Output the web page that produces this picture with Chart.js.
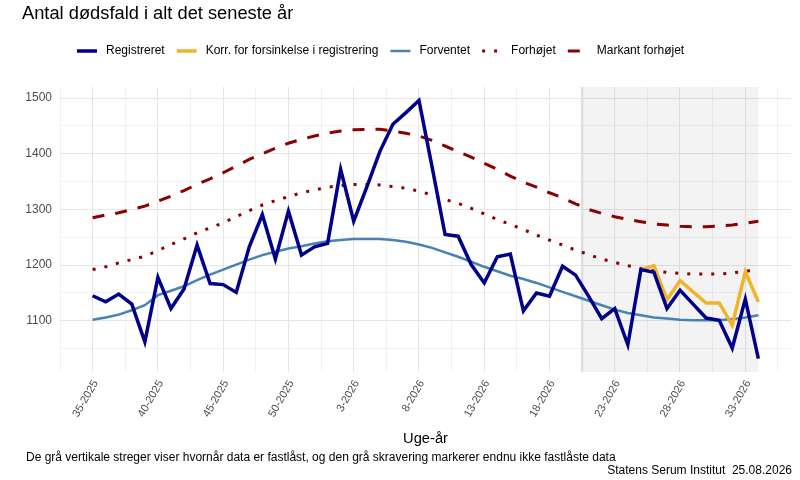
<!DOCTYPE html>
<html lang="da">
<head>
<meta charset="utf-8">
<title>Antal dødsfald i alt det seneste år</title>
<script src="https://cdn.jsdelivr.net/npm/chart.js@4.4.1/dist/chart.umd.min.js"></script>
<style>
  html, body { margin: 0; padding: 0; background: #fff; }
  #wrap { width: 800px; height: 480px; }
</style>
</head>
<body>
<div id="wrap"><canvas id="chart" width="800" height="480"></canvas></div>
<script>
// Uge-år (x-akse)
const weeks = [
  '35-2025', '36-2025', '37-2025', '38-2025', '39-2025', '40-2025', '41-2025', '42-2025', '43-2025',
  '44-2025', '45-2025', '46-2025', '47-2025', '48-2025', '49-2025', '50-2025', '51-2025', '52-2025',
  '1-2026', '2-2026', '3-2026', '4-2026', '5-2026', '6-2026', '7-2026', '8-2026', '9-2026', '10-2026',
  '11-2026', '12-2026', '13-2026', '14-2026', '15-2026', '16-2026', '17-2026', '18-2026', '19-2026',
  '20-2026', '21-2026', '22-2026', '23-2026', '24-2026', '25-2026', '26-2026', '27-2026', '28-2026',
  '29-2026', '30-2026', '31-2026', '32-2026', '33-2026', '34-2026'
];

// Antal dødsfald pr. uge
const registreret = [
  1145, 1134, 1148, 1130, 1062, 1178, 1122, 1157, 1236, 1167, 1165, 1151, 1233,
  1291, 1211, 1297, 1218, 1233, 1239, 1372, 1279, 1340, 1404, 1453, 1474, 1496,
  1377, 1255, 1252, 1201, 1168, 1215, 1220, 1118, 1150, 1144, 1198, 1182, 1144,
  1104, 1122, 1057, 1192, 1187, 1122, 1155, 1130, 1105, 1101, 1051, 1139, 1032
];
const korrigeret = [
  null, null, null, null, null, null, null, null, null, null, null, null, null,
  null, null, null, null, null, null, null, null, null, null, null, null, null,
  null, null, null, null, null, null, null, null, null, null, null, null, null,
  null, null, null, 1192, 1199, 1138, 1172, 1152, 1132, 1132, 1092, 1188, 1134
];
const forventet = [
  1102, 1106, 1111, 1119, 1128, 1146, 1154, 1162, 1173, 1183, 1192, 1201, 1210,
  1218, 1224, 1230, 1234, 1239, 1243, 1245, 1247, 1247, 1247, 1245, 1242, 1237,
  1231, 1223, 1215, 1206, 1197, 1189, 1181, 1175, 1168, 1160, 1152, 1144, 1136,
  1128, 1120, 1114, 1110, 1106, 1104, 1102, 1101, 1101, 1101, 1103, 1106, 1110
];
const forhoejet = [
  1192, 1197, 1204, 1210, 1216, 1226, 1237, 1247, 1258, 1267, 1276, 1287, 1298,
  1308, 1316, 1323, 1330, 1335, 1340, 1343, 1345, 1345, 1344, 1341, 1338, 1333,
  1326, 1318, 1311, 1302, 1292, 1282, 1273, 1264, 1254, 1245, 1236, 1227, 1219,
  1211, 1205, 1199, 1194, 1190, 1187, 1185, 1184, 1184, 1184, 1186, 1189, 1192
];
const markantForhoejet = [
  1285, 1290, 1294, 1300, 1306, 1315, 1324, 1334, 1345, 1355, 1366, 1378, 1390,
  1400, 1410, 1419, 1426, 1432, 1437, 1441, 1443, 1444, 1444, 1441, 1437, 1432,
  1424, 1414, 1404, 1394, 1383, 1372, 1360, 1349, 1340, 1330, 1321, 1310, 1300,
  1293, 1287, 1282, 1278, 1274, 1272, 1270, 1269, 1269, 1270, 1272, 1275, 1279
];

// ikke fastlåste data: fra stregen til sidste uge
const ikkeFastlaast = [37.5, 51];

const yTicks = [1050, 1100, 1150, 1200, 1250, 1300, 1350, 1400, 1450, 1500];

const FONT = "'Liberation Sans', Arial, Helvetica, sans-serif";
Chart.defaults.font.family = FONT;

function points(values) {
  return values.map((v, i) => ({ x: i, y: v })).filter(p => p.y !== null);
}

// x-gitter hver halve 5-uges periode
const xTicks = [];
for (let v = -2.5; v <= weeks.length + 0.5; v += 2.5) xTicks.push(v);

const ssiPlugin = {
  id: 'ssi',
  beforeDatasetsDraw(chart) {
    const { ctx, chartArea, scales } = chart;
    const x1 = scales.x.getPixelForValue(ikkeFastlaast[0]);
    const x2 = scales.x.getPixelForValue(ikkeFastlaast[1]);
    ctx.save();
    ctx.fillStyle = 'rgba(0,0,0,0.048)';
    ctx.fillRect(x1, chartArea.top, x2 - x1, chartArea.bottom - chartArea.top);
    ctx.strokeStyle = '#dedede';
    ctx.lineWidth = 2.5;
    ctx.beginPath();
    ctx.moveTo(x1, chartArea.top);
    ctx.lineTo(x1, chartArea.bottom);
    ctx.stroke();
    ctx.restore();
  },
  afterDraw(chart) {
    const { ctx, chartArea } = chart;
    ctx.save();
    ctx.fillStyle = '#000';
    ctx.textBaseline = 'alphabetic';

    // titel
    ctx.font = '18.3px ' + FONT;
    ctx.textAlign = 'left';
    ctx.fillText('Antal dødsfald i alt det seneste år', 22, 19);

    // legend
    ctx.font = '12px ' + FONT;
    ctx.textBaseline = 'middle';
    let x = 77;
    const y = 51;
    chart.data.datasets.forEach(ds => {
      ctx.save();
      ctx.strokeStyle = ds.borderColor;
      ctx.lineWidth = ds.borderWidth;
      ctx.setLineDash(ds.borderDash || []);
      ctx.beginPath();
      ctx.moveTo(x, y);
      ctx.lineTo(x + 20, y);
      ctx.stroke();
      ctx.restore();
      x += 29;
      ctx.fillText(ds.label, x, y);
      x += ctx.measureText(ds.label).width + 12;
    });

    // akse titel
    ctx.font = '14.7px ' + FONT;
    ctx.textAlign = 'center';
    ctx.fillText('Uge-år', (chartArea.left + chartArea.right) / 2, 439);

    // kilde tekst
    ctx.font = '12px ' + FONT;
    ctx.textAlign = 'left';
    ctx.fillText('De grå vertikale streger viser hvornår data er fastlåst, og den grå skravering markerer endnu ikke fastlåste data', 26, 458);
    ctx.textAlign = 'right';
    ctx.fillText('Statens Serum Institut  25.08.2026', 792, 471);
    ctx.restore();
  }
};

const ctx = document.getElementById('chart').getContext('2d');
const chart = new Chart(ctx, {
  type: 'line',
  data: {
    datasets: [
      { label: 'Registreret', data: points(registreret), borderColor: '#00008B', borderWidth: 3.5 },
      { label: 'Korr. for forsinkelse i registrering', data: points(korrigeret), borderColor: '#F0B429', borderWidth: 3.5 },
      { label: 'Forventet', data: points(forventet), borderColor: '#4682B4', borderWidth: 2.5 },
      { label: 'Forhøjet', data: points(forhoejet), borderColor: '#8B0000', borderWidth: 3, borderDash: [3, 9] },
      { label: 'Markant forhøjet', data: points(markantForhoejet), borderColor: '#8B0000', borderWidth: 3, borderDash: [12, 11] }
    ]
  },
  options: {
    responsive: false,
    animation: false,
    layout: { padding: { top: 87, right: 9, bottom: 0, left: 0 } },
    elements: {
      point: { radius: 0, hoverRadius: 0 },
      line: { tension: 0, fill: false }
    },
    plugins: {
      legend: { display: false },
      tooltip: { enabled: false }
    },
    scales: {
      x: {
        type: 'linear',
        min: -2.5,
        max: 53.5,
        border: { display: false },
        grid: {
          drawTicks: false,
          color: c => (c.tick && c.tick.value % 5 === 0 ? '#e6e6e6' : '#eeeeee'),
          lineWidth: c => (c.tick && c.tick.value % 5 === 0 ? 1.1 : 0.8)
        },
        afterBuildTicks: s => { s.ticks = xTicks.map(v => ({ value: v })); },
        afterFit: s => { s.height = 108; },
        ticks: {
          autoSkip: false,
          minRotation: 60,
          maxRotation: 60,
          padding: 6,
          labelOffset: 3,
          color: '#4d4d4d',
          font: { size: 11 },
          callback: v => (v % 5 === 0 ? weeks[v] : '')
        }
      },
      y: {
        min: 1008,
        max: 1520,
        border: { display: false },
        grid: {
          drawTicks: false,
          color: c => (c.tick && c.tick.value % 100 === 0 ? '#e6e6e6' : '#eeeeee'),
          lineWidth: c => (c.tick && c.tick.value % 100 === 0 ? 1.1 : 0.8)
        },
        afterBuildTicks: s => { s.ticks = yTicks.map(v => ({ value: v })); },
        afterFit: s => { s.width = 60; },
        ticks: {
          padding: 8,
          color: '#4d4d4d',
          font: { size: 12 },
          callback: v => (v % 100 === 0 ? String(v) : '')
        }
      }
    }
  },
  plugins: [ssiPlugin]
});
</script>
</body>
</html>
